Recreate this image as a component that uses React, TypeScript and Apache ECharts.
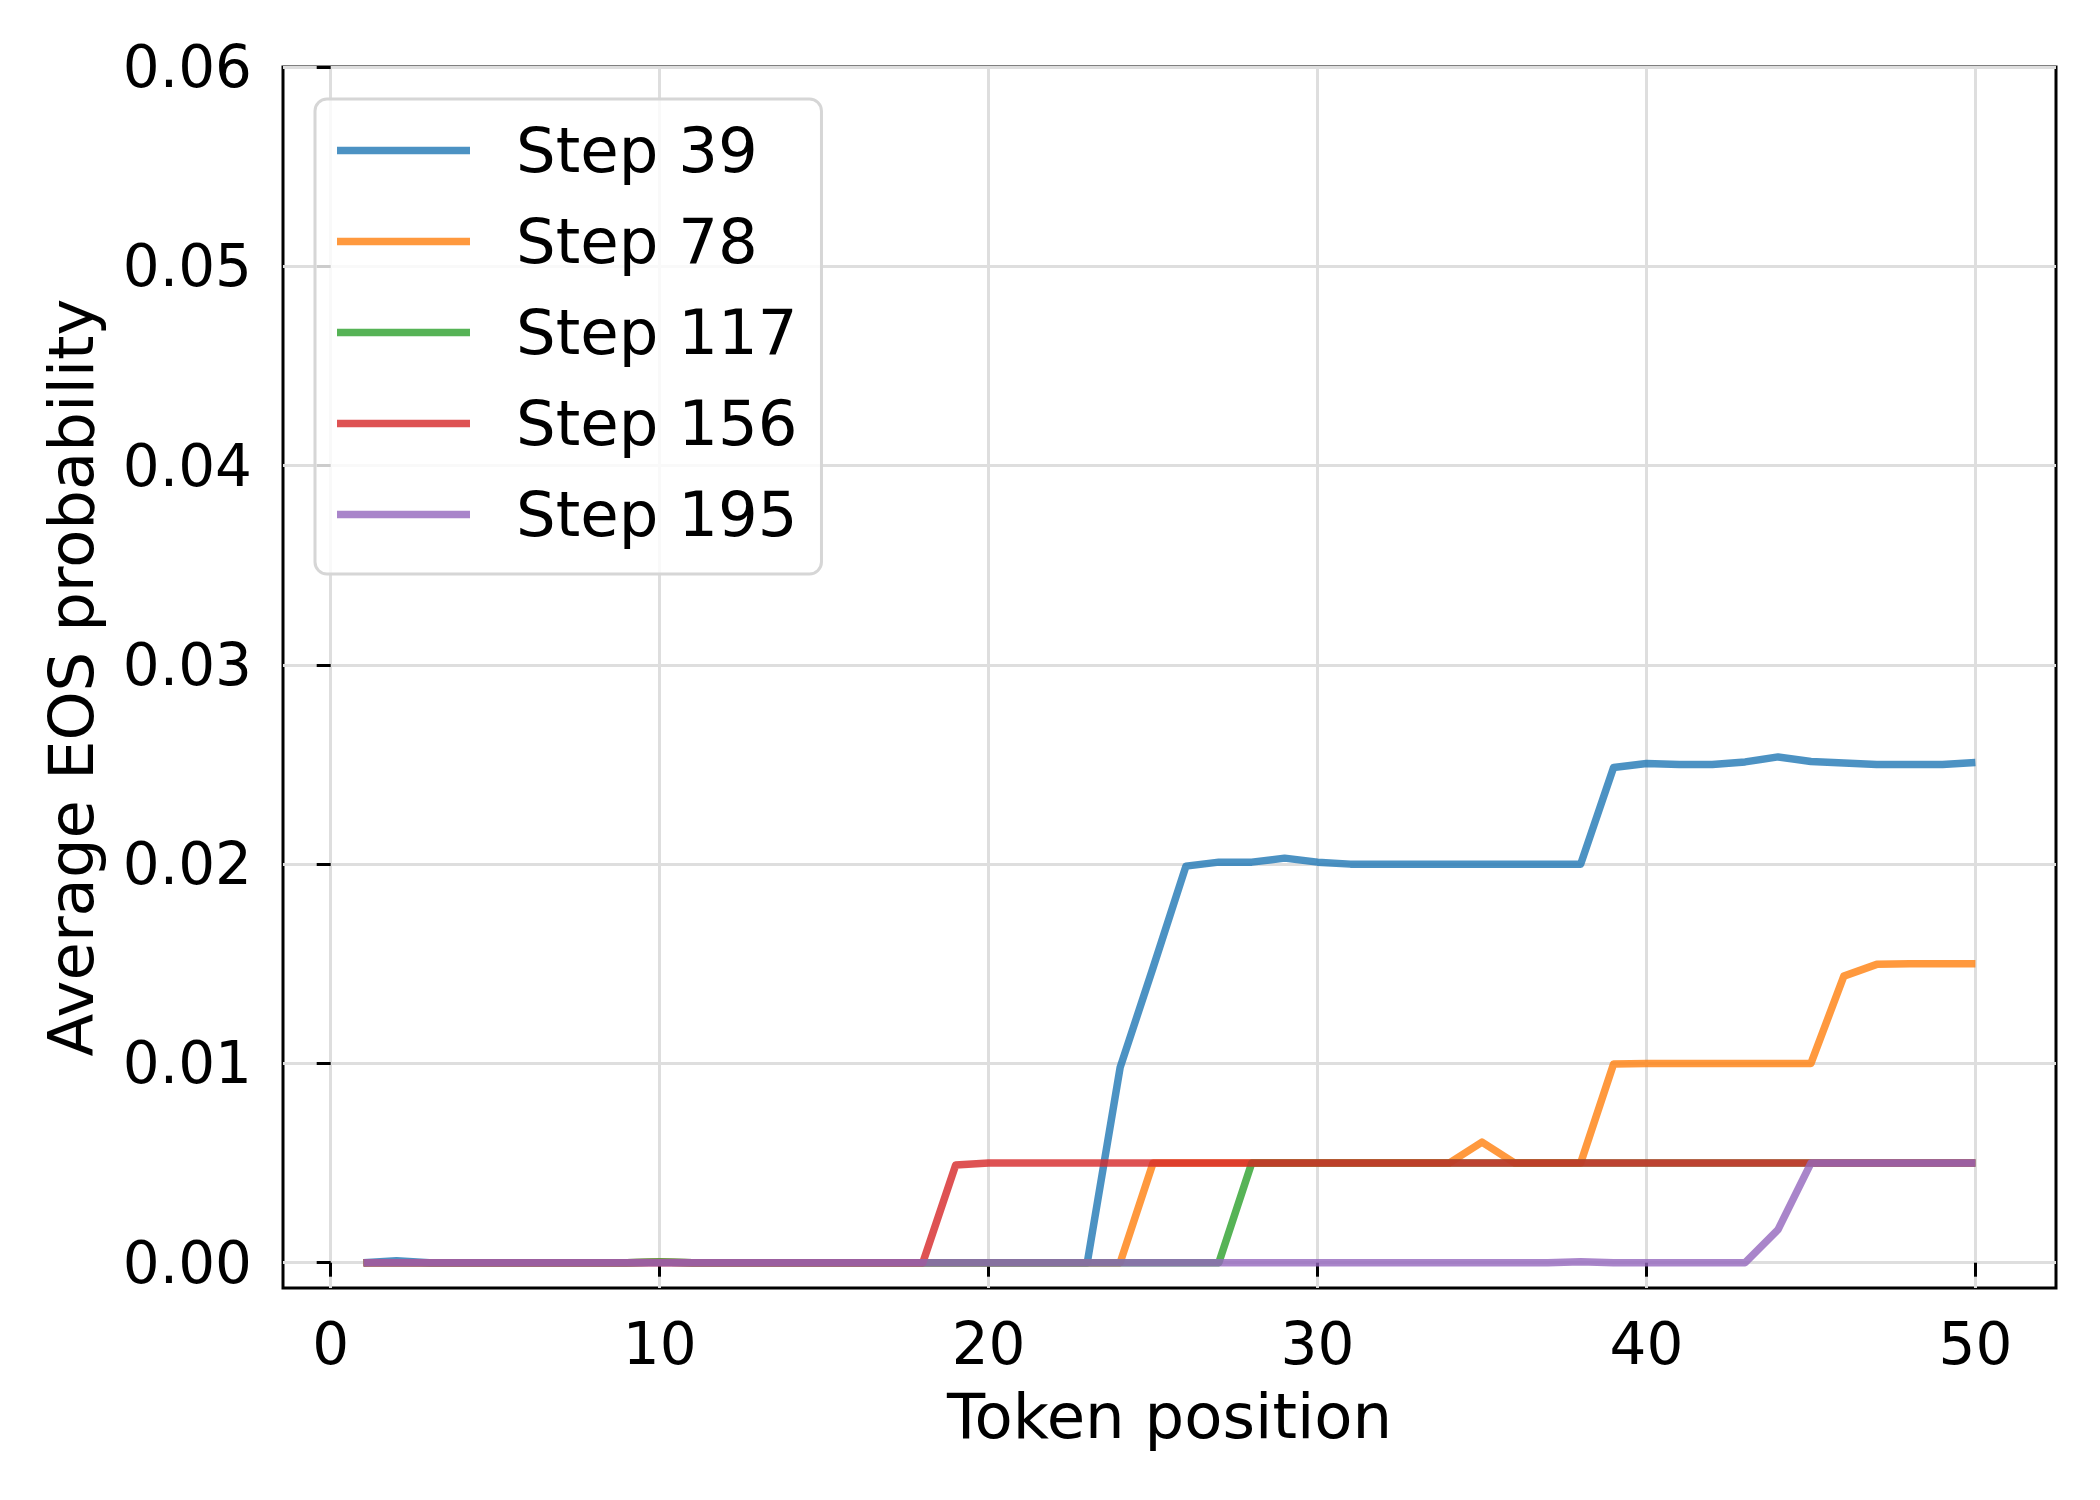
import React, { useEffect, useRef } from "react";
import * as echarts from "echarts";

const positions = [
  1, 2, 3, 4, 5, 6, 7, 8, 9, 10, 11, 12, 13, 14, 15, 16, 17, 18, 19, 20, 21, 22, 23, 24, 25,
  26, 27, 28, 29, 30, 31, 32, 33, 34, 35, 36, 37, 38, 39, 40, 41, 42, 43, 44, 45, 46, 47, 48, 49, 50,
];

const step39 = [
  0, 0.0001, 0, 0, 0, 0, 0, 0, 0, 0.00003, 0, 0, 0, 0, 0, 0, 0, 0, 0, 0, 0, 0, 0,
  0.0098, 0.0148, 0.0199, 0.0201, 0.0201, 0.0203, 0.0201, 0.02, 0.02, 0.02, 0.02, 0.02, 0.02, 0.02, 0.02,
  0.02485, 0.02505, 0.025, 0.025, 0.02513, 0.02538, 0.02515, 0.02508, 0.025, 0.025, 0.025, 0.0251,
];

const step78 = [
  0, 0, 0, 0, 0, 0, 0, 0, 0, 0.00003, 0, 0, 0, 0, 0, 0, 0, 0, 0, 0, 0, 0, 0, 0,
  0.005, 0.005, 0.005, 0.005, 0.005, 0.005, 0.005, 0.005, 0.005, 0.005,
  0.00605, 0.005, 0.005, 0.005,
  0.00997, 0.01, 0.01, 0.01, 0.01, 0.01, 0.01,
  0.01438, 0.01497, 0.015, 0.015, 0.015,
];

const step117 = [
  0, 0, 0, 0, 0, 0, 0, 0, 0, 0.00004, 0, 0, 0, 0, 0, 0, 0, 0, 0, 0, 0, 0, 0, 0, 0, 0, 0,
  0.005, 0.005, 0.005, 0.005, 0.005, 0.005, 0.005, 0.005, 0.005, 0.005, 0.005, 0.005,
  0.005, 0.005, 0.005, 0.005, 0.005, 0.005, 0.005, 0.005, 0.005, 0.005, 0.005,
];

const step156 = [
  0, 0, 0, 0, 0, 0, 0, 0, 0, 0, 0, 0, 0, 0, 0, 0, 0, 0,
  0.0049, 0.005, 0.005, 0.005, 0.005, 0.005, 0.005, 0.005, 0.005, 0.005, 0.005, 0.005,
  0.005, 0.005, 0.005, 0.005, 0.005, 0.005, 0.005, 0.005, 0.005, 0.005, 0.005, 0.005,
  0.005, 0.005, 0.005, 0.005, 0.005, 0.005, 0.005, 0.005,
];

const step195 = [
  0, 0, 0, 0, 0, 0, 0, 0, 0, 0, 0, 0, 0, 0, 0, 0, 0, 0, 0, 0, 0, 0, 0, 0, 0,
  0, 0, 0, 0, 0, 0, 0, 0, 0, 0, 0, 0, 0.00005, 0, 0, 0, 0, 0,
  0.00166, 0.005, 0.005, 0.005, 0.005, 0.005, 0.005,
];

const seriesNames = ["Step 39", "Step 78", "Step 117", "Step 156", "Step 195"];
const seriesValues = [step39, step78, step117, step156, step195];
const seriesColors = [
  "rgba(31,119,180,0.8)",
  "rgba(255,127,14,0.8)",
  "rgba(44,160,44,0.8)",
  "rgba(214,39,40,0.8)",
  "rgba(148,103,189,0.8)",
];

const xTicks = [0, 10, 20, 30, 40, 50];
const yTicks = [0, 0.01, 0.02, 0.03, 0.04, 0.05, 0.06];

const FONT = "DejaVu Sans";

export default function App() {
  const ref = useRef<HTMLDivElement>(null);

  useEffect(() => {
    if (!ref.current) return;
    const chart = echarts.init(ref.current, undefined, { renderer: "svg" });
    const option: any = {
      animation: false,
      backgroundColor: "#ffffff",
      grid: {
        left: 283,
        top: 67,
        right: 44,
        bottom: 212,
        show: true,
        borderColor: "#000000",
        borderWidth: 3,
        backgroundColor: "transparent",
      },
      xAxis: {
        type: "value",
        min: -1.45,
        max: 52.45,
        axisLine: { show: false },
        axisTick: {
          show: true,
          customValues: xTicks,
          length: 14,
          lineStyle: { color: "#000", width: 3 },
        },
        axisLabel: {
          customValues: xTicks,
          margin: 27,
          fontSize: 58,
          color: "#000",
          fontFamily: FONT,
        },
        splitLine: { show: true, lineStyle: { color: "#dedede", width: 3 } },
        name: "Token position",
        nameLocation: "middle",
        nameGap: 97,
        nameTextStyle: { fontSize: 62.5, color: "#000", fontFamily: FONT },
      },
      yAxis: {
        type: "value",
        min: -0.00127,
        max: 0.06,
        axisLine: { show: false },
        axisTick: {
          show: true,
          customValues: yTicks,
          length: 14,
          lineStyle: { color: "#000", width: 3 },
        },
        axisLabel: {
          customValues: yTicks,
          margin: 31,
          fontSize: 58,
          color: "#000",
          fontFamily: FONT,
          formatter: (v: number) => v.toFixed(2),
        },
        splitLine: { show: true, lineStyle: { color: "#dedede", width: 3 } },
        name: "Average EOS probability",
        nameLocation: "middle",
        nameGap: 180,
        nameRotate: 90,
        nameTextStyle: { fontSize: 62.5, color: "#000", fontFamily: FONT },
      },
      legend: {
        orient: "vertical",
        left: 315,
        top: 99,
        icon: "rect",
        itemWidth: 133,
        itemHeight: 7.5,
        itemGap: 26,
        padding: [19, 24, 27, 22],
        backgroundColor: "rgba(255,255,255,0.8)",
        borderColor: "#d6d6d6",
        borderWidth: 3,
        borderRadius: 12,
        data: seriesNames,
        textStyle: {
          fontSize: 62.5,
          lineHeight: 65,
          color: "#000",
          fontFamily: FONT,
          padding: [0, 0, 0, 41],
        },
      },
      series: seriesNames.map((name, i) => ({
        name,
        type: "line",
        color: seriesColors[i],
        symbol: "none",
        showSymbol: false,
        lineStyle: { width: 7.5, color: seriesColors[i], join: "round", cap: "butt" },
        data: positions.map((p, j) => [p, seriesValues[i][j]]),
      })),
    };
    chart.setOption(option);
    return () => chart.dispose();
  }, []);

  return (
    <div
      ref={ref}
      style={{ position: "absolute", left: 0, top: 0, width: 2100, height: 1500 }}
    />
  );
}
